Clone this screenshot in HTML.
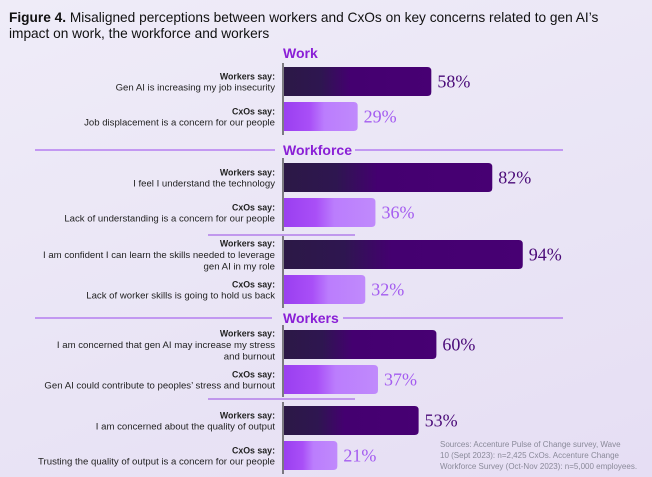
<!DOCTYPE html>
<html><head><meta charset="utf-8"><style>
body{margin:0;background:#ebe7f6;}
#wrap{position:relative;width:652px;height:477px;overflow:hidden;background:linear-gradient(160deg,#efecf8 0%,#e9e4f5 60%,#e6def4 100%);font-family:"Liberation Sans",sans-serif;}
svg{position:absolute;left:0;top:0}
</style></head><body>
<div id="wrap">
<svg id="chart" width="652" height="477">
<defs>
<linearGradient id="gd" x1="0" x2="1"><stop offset="0" stop-color="#2c1846"/><stop offset="0.25" stop-color="#2e1650"/><stop offset="0.45" stop-color="#440070"/><stop offset="1" stop-color="#470073"/></linearGradient>
<linearGradient id="gl" x1="0" x2="1"><stop offset="0" stop-color="#9a3ff0"/><stop offset="0.35" stop-color="#a94ff7"/><stop offset="0.55" stop-color="#bb7dfd"/><stop offset="1" stop-color="#c08afc"/></linearGradient>
</defs>
<text x="9" y="22" font-size="13.7" fill="#111"><tspan font-weight="bold">Figure 4.</tspan> Misaligned perceptions between workers and CxOs on key concerns related to gen AI’s</text>
<text x="9" y="38" font-size="13.7" fill="#111">impact on work, the workforce and workers</text>
<g id="g"></g>
<text x="440" y="447" font-size="8" fill="#8a8a99">Sources: Accenture Pulse of Change survey, Wave</text>
<text x="440" y="458" font-size="8" fill="#8a8a99">10 (Sept 2023): n=2,425 CxOs. Accenture Change</text>
<text x="440" y="469" font-size="8" fill="#8a8a99">Workforce Survey (Oct-Nov 2023): n=5,000 employees.</text>
</svg>
</div>
<script>
const groups = ["w","c","w","c","w","c","w","c","w","c"];
const values = [58,29,82,36,94,32,60,37,53,21];
const labels = [
 ["Gen AI is increasing my job insecurity"],
 ["Job displacement is a concern for our people"],
 ["I feel I understand the technology"],
 ["Lack of understanding is a concern for our people"],
 ["I am confident I can learn the skills needed to leverage","gen AI in my role"],
 ["Lack of worker skills is going to hold us back"],
 ["I am concerned that gen AI may increase my stress","and burnout"],
 ["Gen AI could contribute to peoples’ stress and burnout"],
 ["I am concerned about the quality of output"],
 ["Trusting the quality of output is a concern for our people"]
];
const rowTops = [67,102,163,198,240,275,330,365,406,441];
const NS="http://www.w3.org/2000/svg";
const g=document.getElementById('g');
const X0=284, PX=2.54;
function xs(v){return X0+v*PX;}
function mk(t,a,p){const e=document.createElementNS(NS,t);for(const k in a)e.setAttribute(k,a[k]);(p||g).appendChild(e);return e;}
const secs=[["Work",58,null],["Workforce",155,[35,275,355,563]],["Workers",323,[35,272,343,563]]];
secs.forEach(s=>{
 const t=mk('text',{x:283,y:s[1],'font-size':14,'font-weight':'bold',fill:'#8a1fd6'});t.textContent=s[0];
 
 
 if(s[2]){[[s[2][0],s[2][1]],[s[2][2],s[2][3]]].forEach(p=>{const l=mk('line',{x1:p[0],x2:p[1],y1:s[1]-5,y2:s[1]-5,stroke:'#b57ef0','stroke-width':1.5});
 
 });}
});
[[208,355,235],[208,355,399]].forEach(p=>{const l=mk('line',{x1:p[0],x2:p[1],y1:p[2],y2:p[2],stroke:'#a86ae8','stroke-width':1.2});
 
 });
[[63,135],[158,231],[236,308],[325,397],[402,474]].forEach(p=>{const l=mk('line',{x1:283,x2:283,y1:p[0],y2:p[1],stroke:'#333','stroke-width':1.2});
 
 });
values.forEach((v,i)=>{
 const y=rowTops[i],h=29,w=groups[i]==='w';
 const x1=xs(v),r=4;
 const d=`M${X0},${y}H${x1-r}Q${x1},${y} ${x1},${y+r}V${y+h-r}Q${x1},${y+h} ${x1-r},${y+h}H${X0}Z`;
 const b=mk('path',{d:d,fill:w?'url(#gd)':'url(#gl)'});
 
 
 const t=mk('text',{x:x1+6,y:y+h/2+6,'font-size':18,'font-family':'"Liberation Serif",serif',fill:w?'#4a0a78':'#a45cf0'});
 t.textContent=v+'%';
 
 
 const lines=[w?'Workers say:':'CxOs say:'].concat(labels[i]);
 const y0=y+h/2-(lines.length-1)*5.7+3.5;
 lines.forEach((s,k)=>{const tt=mk('text',{x:275,y:y0+k*11.4,'font-size':k===0?8.8:9.6,'text-anchor':'end',fill:'#222','font-weight':k===0?'bold':'normal'});tt.textContent=s;
 
 });
});
</script>
</body></html>
